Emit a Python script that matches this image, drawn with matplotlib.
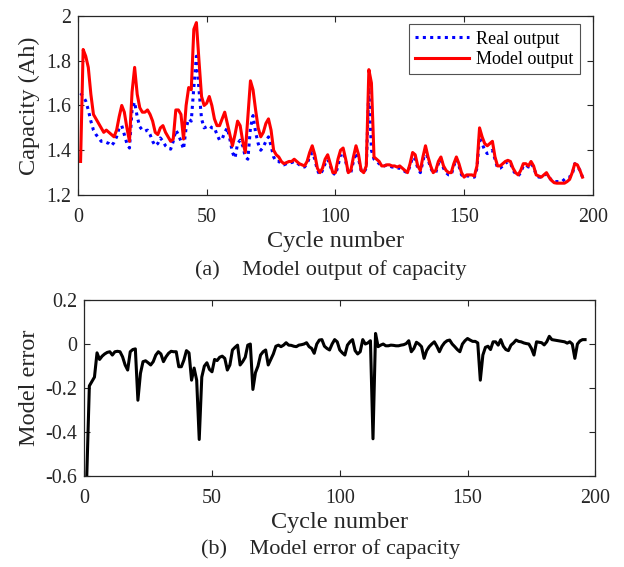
import matplotlib
matplotlib.use("Agg")
import matplotlib.pyplot as plt
import numpy as np

plt.rcParams['font.family'] = ['Liberation Serif', 'DejaVu Serif']
plt.rcParams['axes.unicode_minus'] = False

cycles = list(range(1, 197))

model_output = [
    1.35, 1.85, 1.82, 1.77, 1.65, 1.56, 1.54, 1.52, 1.50, 1.48,
    1.49, 1.48, 1.47, 1.46, 1.49, 1.55, 1.60, 1.57, 1.50, 1.44,
    1.66, 1.77, 1.65, 1.59, 1.57, 1.57, 1.58, 1.56, 1.53, 1.48,
    1.47, 1.50, 1.51, 1.48, 1.46, 1.44, 1.45, 1.58, 1.58, 1.56,
    1.45, 1.60, 1.68, 1.67, 1.94, 1.97, 1.80, 1.64, 1.60, 1.61,
    1.64, 1.60, 1.54, 1.51, 1.51, 1.54, 1.57, 1.52, 1.47, 1.42,
    1.47, 1.53, 1.51, 1.44, 1.39, 1.55, 1.71, 1.67, 1.58, 1.50,
    1.46, 1.48, 1.52, 1.54, 1.49, 1.40, 1.38, 1.37, 1.35, 1.34,
    1.345, 1.35, 1.35, 1.36, 1.35, 1.34, 1.335, 1.33, 1.35, 1.39,
    1.42, 1.38, 1.32, 1.30, 1.32, 1.36, 1.38, 1.34, 1.30, 1.30,
    1.36, 1.40, 1.41, 1.36, 1.30, 1.31, 1.37, 1.42, 1.38, 1.31,
    1.30, 1.33, 1.76, 1.70, 1.37, 1.36, 1.35, 1.33, 1.33, 1.335,
    1.335, 1.33, 1.33, 1.325, 1.33, 1.32, 1.31, 1.30, 1.34, 1.39,
    1.38, 1.33, 1.31, 1.37, 1.42, 1.37, 1.33, 1.30, 1.31, 1.35,
    1.37, 1.33, 1.31, 1.30, 1.30, 1.34, 1.37, 1.34, 1.30, 1.28,
    1.29, 1.29, 1.29, 1.285, 1.33, 1.50, 1.46, 1.43, 1.42, 1.43,
    1.44, 1.37, 1.33, 1.33, 1.34, 1.35, 1.355, 1.35, 1.32, 1.30,
    1.29, 1.31, 1.34, 1.34, 1.33, 1.35, 1.33, 1.29, 1.285, 1.28,
    1.29, 1.30, 1.28, 1.265, 1.255, 1.253, 1.253, 1.253, 1.253, 1.26,
    1.27, 1.30, 1.34, 1.335, 1.31, 1.28,
]

real_output = [
    1.655, 1.64, 1.62, 1.58, 1.53, 1.49, 1.47, 1.455, 1.44, 1.44,
    1.435, 1.43, 1.42, 1.435, 1.46, 1.50, 1.51, 1.47, 1.43, 1.41,
    1.58, 1.615, 1.55, 1.505, 1.49, 1.485, 1.49, 1.47, 1.44, 1.42,
    1.43, 1.455, 1.44, 1.42, 1.41, 1.405, 1.44, 1.49, 1.47, 1.44,
    1.405, 1.50, 1.54, 1.53, 1.68, 1.82, 1.67, 1.54, 1.50, 1.505,
    1.51, 1.50, 1.50, 1.47, 1.445, 1.45, 1.48, 1.50, 1.45, 1.39,
    1.365, 1.43, 1.445, 1.42, 1.37, 1.36, 1.50, 1.555, 1.48, 1.43,
    1.40, 1.415, 1.44, 1.46, 1.42, 1.37, 1.35, 1.35, 1.34, 1.335,
    1.34, 1.345, 1.345, 1.35, 1.345, 1.335, 1.33, 1.325, 1.34, 1.37,
    1.39, 1.36, 1.31, 1.29, 1.31, 1.34, 1.36, 1.33, 1.30, 1.29,
    1.33, 1.38, 1.39, 1.35, 1.30, 1.30, 1.35, 1.39, 1.36, 1.31,
    1.30, 1.32, 1.68, 1.40, 1.36, 1.35, 1.34, 1.33, 1.33, 1.335,
    1.33, 1.325, 1.325, 1.32, 1.32, 1.315, 1.305, 1.30, 1.33, 1.37,
    1.36, 1.32, 1.30, 1.35, 1.40, 1.36, 1.32, 1.30, 1.30, 1.34,
    1.36, 1.32, 1.30, 1.29, 1.29, 1.33, 1.36, 1.33, 1.29, 1.28,
    1.285, 1.285, 1.28, 1.28, 1.32, 1.46, 1.43, 1.40, 1.385, 1.39,
    1.40, 1.36, 1.32, 1.32, 1.33, 1.34, 1.35, 1.345, 1.31, 1.295,
    1.285, 1.30, 1.33, 1.335, 1.325, 1.34, 1.325, 1.29, 1.28, 1.28,
    1.285, 1.295, 1.28, 1.265, 1.26, 1.26, 1.26, 1.26, 1.27, 1.28,
    1.28, 1.29, 1.34, 1.33, 1.31, 1.28,
]

model_error = [
    -0.595, -0.19, -0.17, -0.15, -0.04, -0.07, -0.055, -0.045, -0.038, -0.035,
    -0.05, -0.035, -0.033, -0.035, -0.058, -0.095, -0.118, -0.035, -0.025, -0.022,
    -0.255, -0.133, -0.08, -0.076, -0.085, -0.095, -0.08, -0.05, -0.035, -0.045,
    -0.08, -0.058, -0.042, -0.033, -0.035, -0.035, -0.103, -0.103, -0.073, -0.03,
    -0.04, -0.164, -0.109, -0.164, -0.433, -0.15, -0.10, -0.085, -0.115, -0.126,
    -0.07, -0.075, -0.06, -0.055, -0.065, -0.118, -0.095, -0.027, -0.015, -0.005,
    -0.095, -0.08, -0.06, -0.005, 0.0, -0.206, -0.13, -0.10, -0.05, -0.035,
    -0.027, -0.095, -0.07, -0.045, -0.01, -0.005, -0.012, -0.005, 0.006, -0.005,
    -0.006, -0.01, -0.012, -0.005, -0.003, 0.0, 0.006, -0.012, -0.02, -0.042,
    0.0, 0.018, 0.02, -0.01, -0.02, -0.027, 0.0, 0.02, 0.01, -0.027,
    -0.04, -0.05, -0.005, 0.01, 0.02, -0.03, -0.045, -0.035, 0.02, 0.0,
    0.005, 0.015, -0.43, 0.048, -0.012, -0.005, 0.0, -0.008, -0.008, -0.005,
    -0.006, -0.008, -0.008, -0.005, -0.003, 0.002, 0.015, -0.035, -0.02, 0.008,
    0.0, -0.012, -0.065, -0.03, -0.012, 0.0, 0.01, -0.01, -0.035, -0.01,
    0.006, 0.015, 0.018, 0.0, -0.012, -0.025, -0.035, 0.0, 0.015, 0.025,
    0.018, 0.012, 0.012, 0.005, -0.164, -0.05, -0.015, -0.01, -0.025, 0.01,
    0.01, -0.005, 0.02, -0.01, -0.025, -0.03, -0.005, 0.005, 0.018, 0.012,
    0.01, 0.005, 0.002, 0.0, -0.02, -0.05, 0.01, 0.008, 0.006, -0.004,
    0.01, 0.035, 0.02, 0.018, 0.016, 0.014, 0.012, 0.01, 0.004, 0.01,
    0.0, -0.065, 0.0, 0.014, 0.02, 0.02,
]

xticks = [0, 50, 100, 150, 200]
yticks_a = [1.2, 1.4, 1.6, 1.8, 2.0]
yticklabels_a = ["1.2", "1.4", "1.6", "1.8", "2"]
yticks_b = [-0.6, -0.4, -0.2, 0.0, 0.2]
yticklabels_b = ["-0.6", "-0.4", "-0.2", "0", "0.2"]

TICK_FS = 14.4
LABEL_FS = 17.5
CAPTION_FS = 16
LEGEND_FS = 13

fig = plt.figure(figsize=(6.24, 5.67), dpi=100)
ax1 = fig.add_axes([0.125, 0.656, 0.825, 0.316])
ax2 = fig.add_axes([0.135, 0.160, 0.819, 0.311])

def style(ax):
    ax.tick_params(direction='in', top=True, right=True, labelsize=TICK_FS,
                   length=4, width=0.8, colors='#262626')
    ax.tick_params(axis='x', pad=9)
    ax.tick_params(axis='y', pad=5)
    for s in ax.spines.values():
        s.set_linewidth(0.9)
        s.set_color('#262626')

ax1.plot(cycles, real_output, color='#0000ff', linestyle=(0, (1, 1.4)), linewidth=2.2, label='Real output')
ax1.plot(cycles, model_output, color='#ff0000', linestyle='-', linewidth=2.2, label='Model output')
ax1.set_xlim(0, 200)
ax1.set_ylim(1.2, 2.0)
ax1.set_xticks(xticks)
ax1.set_yticks(yticks_a)
ax1.set_yticklabels(yticklabels_a)
ax1.set_xlabel('Cycle number', fontsize=LABEL_FS, labelpad=3, color='#262626')
ax1.set_ylabel('Capacity (Ah)', fontsize=LABEL_FS, labelpad=4, color='#262626')
style(ax1)
leg = ax1.legend(loc='upper right', bbox_to_anchor=(0.975, 0.952), fontsize=LEGEND_FS,
                 frameon=True, fancybox=False, edgecolor='#262626', borderpad=0.35,
                 handlelength=3.0, handletextpad=0.4, labelspacing=0.18, borderaxespad=0.0)
leg.get_frame().set_linewidth(0.8)

ax2.plot(cycles, model_error, color='black', linewidth=2.2)
ax2.set_xlim(0, 200)
ax2.set_ylim(-0.6, 0.2)
ax2.set_xticks(xticks)
ax2.set_yticks(yticks_b)
ax2.set_yticklabels(yticklabels_b)
ax2.set_xlabel('Cycle number', fontsize=LABEL_FS, labelpad=3, color='#262626')
ax2.set_ylabel('Model error', fontsize=LABEL_FS, labelpad=4, color='#262626')
style(ax2)

fig.text(0.53, 1 - 270 / 567, '(a)    Model output of capacity', ha='center', va='center',
         fontsize=CAPTION_FS, color='#262626')
fig.text(0.53, 1 - 549 / 567, '(b)    Model error of capacity', ha='center', va='center',
         fontsize=CAPTION_FS, color='#262626')

fig.savefig('out.png', dpi=100)
